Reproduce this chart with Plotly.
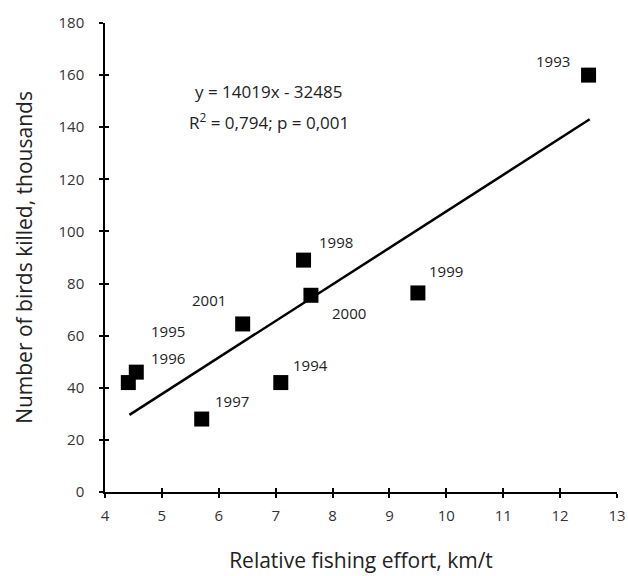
import plotly.graph_objects as go

years = ["1993", "1994", "1995", "1996", "1997", "1998", "1999", "2000", "2001"]
effort = [12.5, 7.09, 4.41, 4.55, 5.70, 7.49, 9.50, 7.62, 6.42]
birds = [160, 42, 42, 46, 28, 89, 76.4, 75.5, 64.5]

# label offsets in pixels (ax, ay) for each year
label_dx = [-36, 30, 40, 32, 30, 32, 28, 38, -34]
label_dy = [-14, -18, -52, -14, -18, -18, -22, 18, -24]

slope = 14.019
intercept = -32.485
fit_x = [4.43, 12.52]
fit_y = [slope * v + intercept for v in fit_x]

FONT = "Open Sans"
TXT = "#222"

fig = go.Figure()
fig.add_trace(go.Scatter(x=fit_x, y=fit_y, mode="lines",
                         line=dict(color="black", width=2.5), hoverinfo="skip",
                         showlegend=False))
fig.add_trace(go.Scatter(x=effort, y=birds, mode="markers",
                         marker=dict(symbol="square", size=15, color="black"),
                         showlegend=False))
# overlay axes for inside ticks (cross-style ticks)
fig.add_trace(go.Scatter(x=[None], y=[None], xaxis="x2", yaxis="y2", showlegend=False))

for yr, xv, yv, dx, dy in zip(years, effort, birds, label_dx, label_dy):
    fig.add_annotation(x=xv, y=yv, text=yr, showarrow=True, arrowcolor="rgba(0,0,0,0)",
                       ax=dx, ay=dy, font=dict(family=FONT, size=15, color=TXT))

fig.add_annotation(x=0.32, y=0.855, xref="paper", yref="paper", showarrow=False,
                   xanchor="center", yanchor="middle",
                   text="y = 14019x - 32485", font=dict(family=FONT, size=17, color=TXT))
fig.add_annotation(x=0.32, y=0.789, xref="paper", yref="paper", showarrow=False,
                   xanchor="center", yanchor="middle",
                   text="R<sup>2</sup> = 0,794; p = 0,001", font=dict(family=FONT, size=17, color=TXT))

axis_common = dict(showgrid=False, zeroline=False, showline=True, linecolor="black",
                   linewidth=1.5, ticks="outside", ticklen=4, tickwidth=1.5, tickcolor="black",
                   tickfont=dict(family=FONT, size=15, color="#333"))

fig.update_layout(
    width=628, height=576,
    margin=dict(l=105, r=11, t=23, b=84),
    plot_bgcolor="white", paper_bgcolor="white",
    xaxis=dict(range=[4, 13], dtick=1, tick0=4, automargin=False, ticklabelstandoff=5,
               title=dict(text="Relative fishing effort, km/t", standoff=30,
                          font=dict(family=FONT, size=21, color=TXT)),
               **axis_common),
    yaxis=dict(range=[0, 180], dtick=20, tick0=0, automargin=False, ticklabelstandoff=12,
               title=dict(text="Number of birds killed, thousands", standoff=20,
                          font=dict(family=FONT, size=21, color=TXT)),
               **axis_common),
    xaxis2=dict(range=[4, 13], dtick=1, tick0=4, overlaying="x", anchor="y2",
                showgrid=False, zeroline=False, showline=False, showticklabels=False,
                ticks="inside", ticklen=4, tickwidth=1.5, tickcolor="black", side="bottom",
                automargin=False),
    yaxis2=dict(range=[0, 180], dtick=20, tick0=0, overlaying="y", anchor="x2",
                showgrid=False, zeroline=False, showline=False, showticklabels=False,
                ticks="inside", ticklen=4, tickwidth=1.5, tickcolor="black", side="left",
                automargin=False),
)

fig.write_html("out.html")
